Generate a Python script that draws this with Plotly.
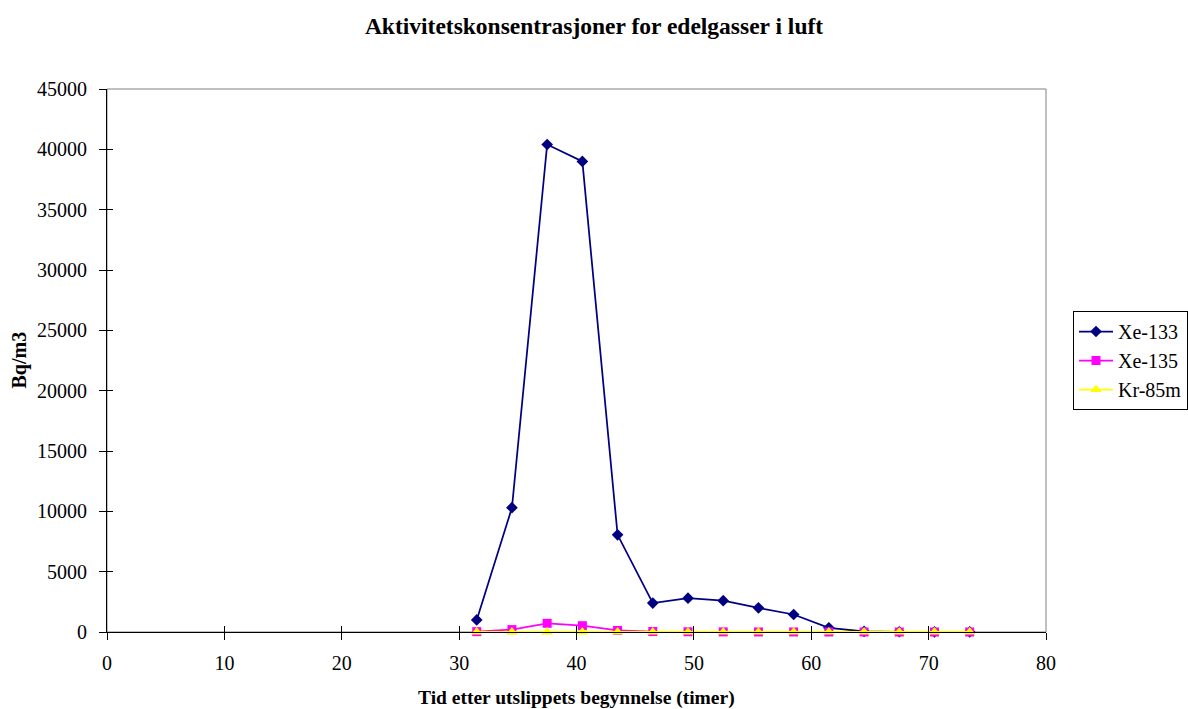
import plotly.graph_objects as go

# Hours after release start
hours = [31.5, 34.5, 37.5, 40.5, 43.5, 46.5, 49.5, 52.5, 55.5, 58.5, 61.5, 64.5, 67.5, 70.5, 73.5]

# Activity concentrations in air (Bq/m3)
xe133 = [1000, 10300, 40400, 39000, 8050, 2400, 2800, 2600, 2000, 1450, 350, 50, 20, 10, 5]
xe135 = [30, 200, 720, 520, 130, 40, 20, 10, 5, 5, 3, 2, 1, 1, 1]
kr85m = [5, 5, 5, 5, 3, 2, 1, 1, 1, 1, 1, 1, 1, 1, 1]

x_ticks = [0, 10, 20, 30, 40, 50, 60, 70, 80]
y_ticks = [0, 5000, 10000, 15000, 20000, 25000, 30000, 35000, 40000, 45000]

FONT = "Liberation Serif, Times New Roman, serif"
W, H = 1188, 709
L, R, T, B = 107, 142, 89, 77

fig = go.Figure()

series = [
    ("Xe-133", xe133, "#000080", "diamond", 9),
    ("Xe-135", xe135, "#FF00FF", "square", 9),
    ("Kr-85m", kr85m, "#FFFF00", "triangle-up", 10),
]
for name, vals, color, symbol, size in series:
    fig.add_trace(go.Scatter(
        x=hours, y=vals, name=name, mode="lines+markers",
        line=dict(color=color, width=1.75),
        marker=dict(symbol=symbol, size=size, color=color, line=dict(width=0)),
        cliponaxis=False,
    ))

# inward half of the crossing tick marks
fig.add_trace(go.Scatter(x=[None], y=[None], xaxis="x2", yaxis="y2",
                         showlegend=False, hoverinfo="skip"))

axis_common = dict(
    showgrid=False, zeroline=False, showline=True, linecolor="black", linewidth=1,
    ticks="outside", ticklen=7, tickcolor="black", tickwidth=1,
    tickfont=dict(family=FONT, size=20, color="black"),
)

fig.update_layout(
    width=W, height=H,
    margin=dict(l=L, r=R, t=T, b=B, autoexpand=False),
    paper_bgcolor="white", plot_bgcolor="white",
    font=dict(family=FONT, color="black"),
    title=dict(
        text="<b>Aktivitetskonsentrasjoner for edelgasser i luft</b>",
        x=0.5, xref="container", xanchor="center",
        y=1 - 26 / H, yref="container", yanchor="middle",
        font=dict(family=FONT, size=23.5, color="black"),
    ),
    xaxis=dict(range=[0, 80], tickvals=x_ticks, ticklabelstandoff=6, **axis_common),
    yaxis=dict(range=[0, 45000], tickvals=y_ticks, tickformat="d",
               ticklabelstandoff=8, **axis_common),
    xaxis2=dict(range=[0, 80], overlaying="x", tickvals=x_ticks, ticks="inside",
                ticklen=6, tickcolor="black", showticklabels=False, showgrid=False,
                zeroline=False, showline=False),
    yaxis2=dict(range=[0, 45000], overlaying="y", tickvals=y_ticks, ticks="inside",
                ticklen=6, tickcolor="black", showticklabels=False, showgrid=False,
                zeroline=False, showline=False),
    legend=dict(
        x=(1073 - L) / (W - L - R), xanchor="left", y=0.5, yanchor="middle",
        bordercolor="black", borderwidth=1, bgcolor="white",
        font=dict(family=FONT, size=20, color="black"),
        tracegroupgap=0, itemwidth=34,
    ),
    shapes=[dict(type="rect", xref="paper", yref="paper", x0=0, y0=0, x1=1, y1=1,
                 line=dict(color="#808080", width=1), layer="below")],
    annotations=[
        dict(text="<b>Tid etter utslippets begynnelse (timer)</b>",
             xref="paper", x=0.5, yref="paper", y=-(698 - (H - B)) / (H - T - B),
             xanchor="center", yanchor="middle", showarrow=False,
             font=dict(family=FONT, size=19.5, color="black")),
        dict(text="<b>Bq/m3</b>", textangle=-90,
             xref="paper", x=-(L - 19) / (W - L - R), yref="paper", y=0.5,
             xanchor="center", yanchor="middle", showarrow=False,
             font=dict(family=FONT, size=20, color="black")),
    ],
)

fig.write_html("out.html")
